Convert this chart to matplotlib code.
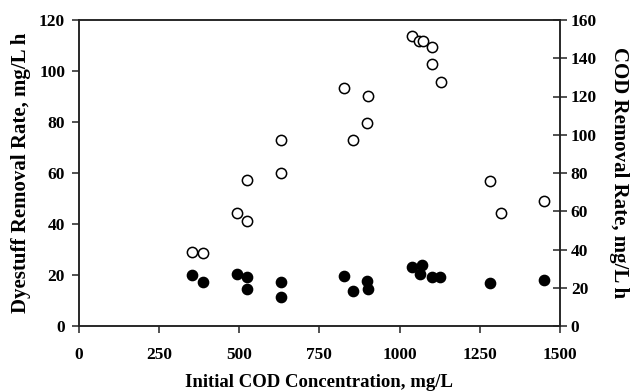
import matplotlib
matplotlib.use("Agg")
import matplotlib.pyplot as plt

# Dyestuff removal rate (filled circles, left axis)
dye_cod = [354, 388, 492, 525, 525, 629, 629, 827, 856, 900, 903,
           1039, 1069, 1064, 1100, 1127, 1283, 1451]
dye_rate = [19.9, 17.1, 20.4, 19.1, 14.4, 17.1, 11.5, 19.6, 13.8, 17.8, 14.6,
            23.1, 24.0, 20.4, 19.1, 19.1, 16.7, 18.2]

# COD removal rate (open circles, right axis)
cod_cod = [354, 388, 492, 525, 525, 629, 629, 827, 856, 900, 903,
           1039, 1062, 1072, 1100, 1100, 1130, 1283, 1317, 1451]
cod_rate = [38.5, 38.0, 59.0, 55.0, 76.5, 80.0, 97.0, 124.5, 97.0, 106.0, 120.5,
            151.5, 149.0, 149.0, 146.0, 137.0, 127.5, 76.0, 59.0, 65.5]

x_ticks = [0, 250, 500, 750, 1000, 1250, 1500]
left_ticks = [0, 20, 40, 60, 80, 100, 120]
right_ticks = [0, 20, 40, 60, 80, 100, 120, 140, 160]

plt.rcParams["font.family"] = ["Liberation Serif", "DejaVu Serif"]
plt.rcParams["font.weight"] = "bold"

fig = plt.figure(figsize=(6.32, 3.92), dpi=100)
ax = fig.add_axes([79 / 632, 1 - 326 / 392, (559.75 - 79) / 632, 306 / 392])
ax2 = ax.twinx()

edge = "#222222"
ax.plot(dye_cod, dye_rate, linestyle="none", marker="o", markersize=7.4,
        markerfacecolor="black", markeredgecolor="black", markeredgewidth=1.0, zorder=3)
ax2.plot(cod_cod, cod_rate, linestyle="none", marker="o", markersize=7.4,
         markerfacecolor="white", markeredgecolor="black", markeredgewidth=1.1, zorder=3)

ax.set_xlim(0, 1500)
ax.set_ylim(0, 120)
ax2.set_ylim(0, 160)
ax.set_xticks(x_ticks)
ax.set_xticklabels([str(v) for v in x_ticks])
ax.set_yticks(left_ticks)
ax2.set_yticks(right_ticks)

for a in (ax, ax2):
    for s in a.spines.values():
        s.set_linewidth(1.1)
        s.set_color(edge)
    a.tick_params(direction="out", length=5, width=1.1, color=edge,
                  labelsize=12.5, pad=4)
    for lab in a.get_xticklabels() + a.get_yticklabels():
        lab.set_fontweight("bold")

ax2.tick_params(axis="y", direction="inout", length=10, pad=3)
ax.tick_params(axis="x", pad=10)
ax.tick_params(axis="y", pad=5)
ax.set_xlabel("Initial COD Concentration, mg/L", fontsize=13.5, fontweight="bold", labelpad=8)
ax.set_ylabel("Dyestuff Removal Rate, mg/L h", fontsize=15, fontweight="bold", labelpad=6)
ax2.set_ylabel("COD Removal Rate, mg/L h", fontsize=15, fontweight="bold",
               rotation=270, labelpad=23)

fig.savefig("out.png", dpi=100)
